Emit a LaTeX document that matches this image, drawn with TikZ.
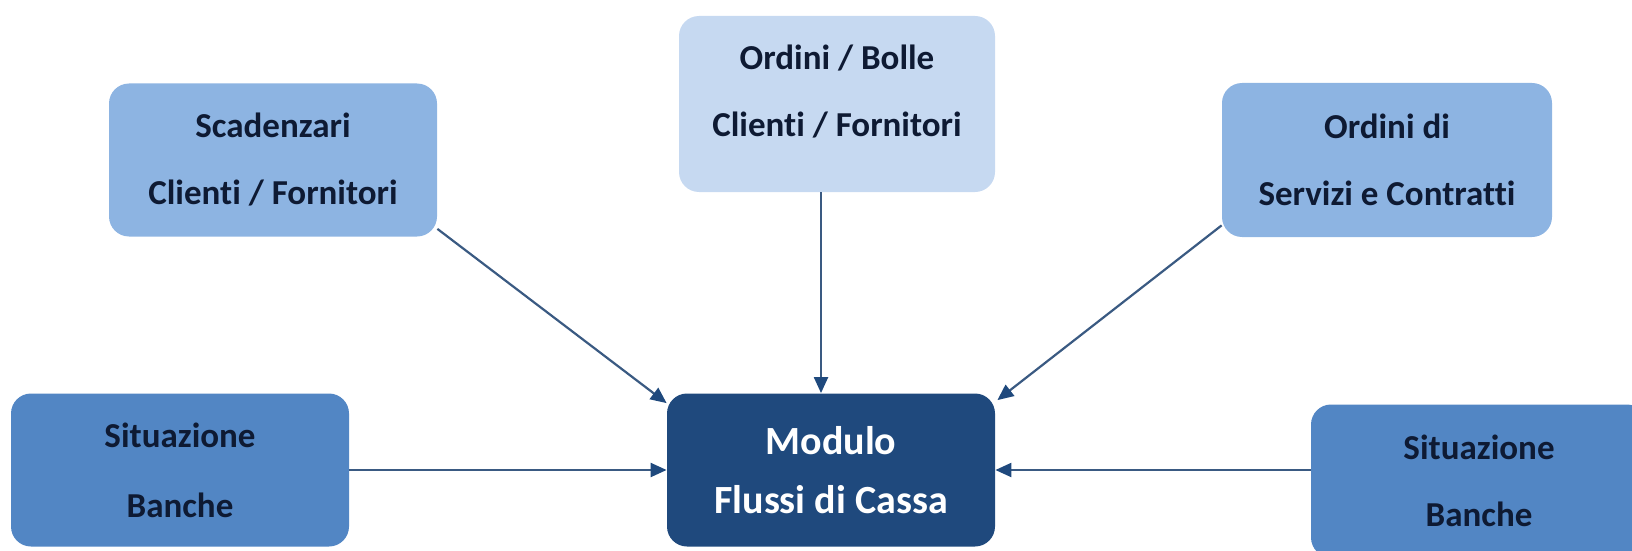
\documentclass[tikz,border=0pt]{standalone}
\usepackage{fontspec}
\setmainfont{Carlito}[Ligatures={NoCommon}]
\usetikzlibrary{arrows.meta,calc}
\definecolor{navy}{HTML}{1F497D}
\definecolor{midblue}{HTML}{5286C4}
\definecolor{lightblue}{HTML}{8DB4E2}
\definecolor{paleblue}{HTML}{C6D9F1}
\definecolor{ink}{HTML}{0E1A33}
\definecolor{linecol}{HTML}{3A5A82}

\begin{document}
\begin{tikzpicture}[x=0.5pt, y=-0.5pt,
    box/.style={rectangle, rounded corners=10pt, inner sep=0pt,
                align=center, text=ink,
                font=\bfseries\fontsize{17.5}{33.5}\selectfont},
    flow/.style={draw=linecol, line width=1.1pt,
                 -{Triangle[length=8pt,width=7pt,color=navy]}}]
    \useasboundingbox (0,0) rectangle (1632,551);
    \clip (0,0) rectangle (1632,551);

    % sources
    \node[box, fill=lightblue, minimum width=164pt, minimum height=76.5pt]
        (scad) at (273,160) {Scadenzari\\Clienti / Fornitori};
    \node[box, fill=paleblue, minimum width=158pt, minimum height=88pt]
        (bolle) at (837,104) {};
    \node[box] (bolletxt) at (837,92) {Ordini / Bolle\\Clienti / Fornitori};
    \node[box, fill=lightblue, minimum width=165pt, minimum height=77pt]
        (serv) at (1387,160) {Ordini di\\Servizi e Contratti};
    \node[box, fill=midblue, minimum width=169pt, minimum height=76.5pt,
          font=\bfseries\fontsize{17.5}{35}\selectfont]
        (sitl) at (180,470) {Situazione\\Banche};
    \node[box, fill=midblue, minimum width=168pt, minimum height=76.5pt]
        (sitr) at (1479,481) {Situazione\\Banche};

    % target
    \node[box, fill=navy, text=white, minimum width=164pt, minimum height=76.5pt,
          font=\bfseries\fontsize{20}{29.5}\selectfont]
        (modulo) at (831,470) {Modulo\\Flussi di Cassa};

    % connectors
    \draw[flow] ($(scad.south east)+(0,-8)$) -- ($(modulo.north west)+(0,10)$);
    \draw[flow] ([xshift=-8pt]bolle.south) -- ([xshift=-8pt]bolle.south |- modulo.north);
    \draw[flow] ($(serv.south west)+(0,-12)$) -- ($(modulo.north east)+(2,7)$);
    \draw[flow] (sitl.east |- modulo.west) -- (modulo.west);
    \draw[flow] (sitr.west |- modulo.east) -- (modulo.east);
\end{tikzpicture}
\end{document}
